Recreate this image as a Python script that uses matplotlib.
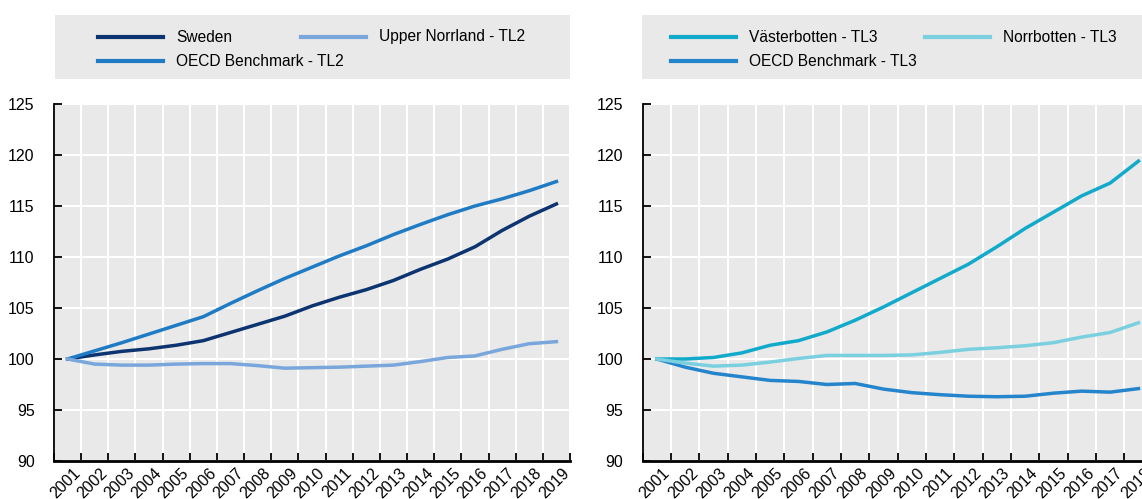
import matplotlib
matplotlib.use("Agg")
import matplotlib.pyplot as plt
import matplotlib.transforms as mtransforms
from matplotlib.lines import Line2D
from matplotlib.patches import Rectangle

plt.rcParams['font.family'] = ['Liberation Sans', 'DejaVu Sans']

years = [str(y) for y in range(2001, 2020)]

# Left panel: TL2 regions (index 2001 = 100)
sweden = [100.0, 100.4, 100.75, 101.0, 101.35, 101.8, 102.6, 103.4, 104.2, 105.2,
          106.05, 106.8, 107.7, 108.8, 109.8, 111.0, 112.6, 114.0, 115.2]
upper_norrland = [100.0, 99.5, 99.4, 99.4, 99.5, 99.55, 99.55, 99.35, 99.1, 99.15,
                  99.2, 99.3, 99.4, 99.75, 100.15, 100.3, 100.95, 101.5, 101.7]
oecd_tl2 = [100.0, 100.8, 101.6, 102.45, 103.3, 104.15, 105.45, 106.7, 107.9, 109.0,
            110.1, 111.1, 112.2, 113.2, 114.15, 115.0, 115.7, 116.5, 117.4]

# Right panel: TL3 regions (2019 falls outside the visible area)
vasterbotten = [100.0, 100.0, 100.15, 100.6, 101.35, 101.8, 102.65, 103.8, 105.1, 106.5,
                107.9, 109.3, 111.0, 112.8, 114.4, 116.0, 117.25, 119.4]
norrbotten = [100.0, 99.6, 99.3, 99.4, 99.7, 100.05, 100.35, 100.35, 100.35, 100.4,
              100.65, 100.95, 101.1, 101.3, 101.6, 102.15, 102.6, 103.55]
oecd_tl3 = [100.0, 99.2, 98.6, 98.25, 97.9, 97.8, 97.5, 97.6, 97.05, 96.7,
            96.5, 96.35, 96.3, 96.35, 96.65, 96.85, 96.75, 97.1]

left_series = [("Sweden", sweden, "#0c3470"),
               ("OECD Benchmark - TL2", oecd_tl2, "#1f7bc4"),
               ("Upper Norrland - TL2", upper_norrland, "#79a7dc")]
right_series = [("Västerbotten - TL3", vasterbotten, "#12aacb"),
                ("OECD Benchmark - TL3", oecd_tl3, "#2585cc"),
                ("Norrbotten - TL3", norrbotten, "#7bd0e0")]

W, H = 1142, 499
fig = plt.figure(figsize=(W / 100, H / 100), dpi=100)


def px_axes(x0, y0, x1, y1):
    return fig.add_axes([x0 / W, 1 - y1 / H, (x1 - x0) / W, (y1 - y0) / H])


def style_axes(ax, n):
    ax.set_facecolor("#e9e9e9")
    ax.set_xlim(-0.5, n - 0.5)
    ax.set_ylim(90, 125)
    ax.set_yticks(range(90, 130, 5))
    ax.set_xticks([i - 0.5 for i in range(n + 1)])
    ax.set_xticklabels([])
    ax.set_xticks(range(n), minor=True)
    ax.set_xticklabels(years[:n], minor=True, rotation=45, ha='right',
                       va='top', rotation_mode='anchor', fontsize=11.5)
    ax.tick_params(axis='x', which='minor', length=0, pad=3)
    ax.tick_params(axis='both', which='major', direction='in', length=6,
                   width=1.3, color='black')
    ax.tick_params(axis='y', labelsize=11.5, pad=14)
    shift = mtransforms.ScaledTranslation(5 / 100, 0, fig.dpi_scale_trans)
    for lab in ax.get_xticklabels(minor=True):
        lab.set_transform(lab.get_transform() + shift)
    ax.grid(True, which='major', color='white', linewidth=1.5)
    ax.set_axisbelow(True)
    for s in ('top', 'right'):
        ax.spines[s].set_visible(False)
    ax.spines['left'].set_linewidth(1.3)
    ax.spines['bottom'].set_linewidth(2)


def draw_legend(entries, box, positions):
    x0, y0, x1, y1 = box
    fig.patches.append(Rectangle((x0 / W, 1 - y1 / H), (x1 - x0) / W, (y1 - y0) / H,
                                 transform=fig.transFigure, facecolor="#e9e9e9",
                                 edgecolor='none', zorder=0))
    for (label, _, color), (hx, ty) in zip(entries, positions):
        fig.lines.append(Line2D([hx / W, (hx + 65) / W], [1 - ty / H, 1 - ty / H],
                                transform=fig.transFigure, color=color, linewidth=3))
        fig.text((hx + 78) / W, 1 - ty / H, label, fontsize=11.2, va='center', ha='left')


ax1 = px_axes(54, 104, 570, 461)
style_axes(ax1, 19)
for label, vals, color in left_series:
    ax1.plot(range(len(vals)), vals, color=color, linewidth=2.5, label=label)

ax2 = px_axes(642.7, 104, 642.7 + 19 * 28.33, 461)
style_axes(ax2, 19)
for label, vals, color in right_series:
    ax2.plot(range(len(vals)), vals, color=color, linewidth=2.5, label=label)

draw_legend(left_series, (55, 15, 570, 79), [(98, 37), (98, 61), (301, 37)])
draw_legend(right_series, (642, 15, 1142, 79), [(671, 37), (671, 61), (925, 37)])

fig.savefig("out.png", dpi=100)
